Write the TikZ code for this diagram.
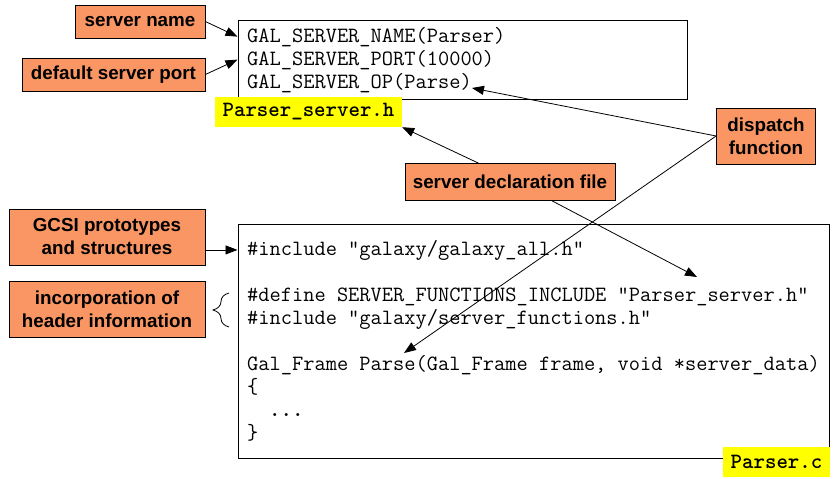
\documentclass[tikz,border=0pt]{standalone}
\usepackage{fontspec}
\usetikzlibrary{arrows.meta,calc,decorations.pathreplacing}
\newfontfamily\lblsans{Liberation Sans}
\definecolor{lblorange}{RGB}{250,150,100}
\definecolor{tagyellow}{RGB}{255,255,0}
\newcommand{\lblfont}{\lblsans\bfseries\fontsize{18.8}{23}\selectfont}
\newcommand{\codefont}{\ttfamily\fontsize{21.8}{23}\selectfont}
\newcommand{\tagfont}{\ttfamily\bfseries\fontsize{21.8}{23}\selectfont}
\begin{document}
\begin{tikzpicture}[x=1pt,y=-1pt,
  lbl/.style={rectangle,draw,line width=0.8pt,fill=lblorange,font=\lblfont,
              align=center,inner sep=0pt},
  tag/.style={rectangle,fill=tagyellow,font=\tagfont,inner sep=0pt},
  codebox/.style={rectangle,draw,line width=1pt,inner sep=0pt},
  code/.style={font=\codefont,anchor=base west,inner sep=0pt},
  ptr/.style={-{Triangle[length=12pt,width=9pt]},line width=0.8pt}]
\fill[white] (0,0) rectangle (839,479);
\useasboundingbox (0,0) rectangle (839,479);
\node[codebox,minimum width=449pt,minimum height=79pt] (hbox) at (462.5,60) {};
\node[codebox,minimum width=591pt,minimum height=234pt] (bbox) at (533.5,341) {};
\node[code] (nameln) at (247,42) {GAL\_SERVER\_NAME(Parser)};
\node[code] (portln) at (247,65) {GAL\_SERVER\_PORT(10000)};
\node[code] (opln) at (247,88) {GAL\_SERVER\_OP(Parse)};
\node[code] (incln) at (247,255) {\#include "galaxy/galaxy\_all.h"};
\node[code] (defln) at (247,301) {\#define SERVER\_FUNCTIONS\_INCLUDE "Parser\_server.h"};
\node[code] (srvln) at (247,324) {\#include "galaxy/server\_functions.h"};
\node[code] (parseln) at (247,370) {Gal\_Frame Parse(Gal\_Frame frame, void *server\_data)};
\node[code] (openln) at (247,393) {\{};
\node[code,font=\codefont\bfseries] (dotsln) at (269,416) {...};
\node[code] (closeln) at (247,439) {\}};
\node[lbl,minimum width=130pt,minimum height=33pt] (sname) at (140,21.5) {server name};
\node[lbl,minimum width=183pt,minimum height=33pt] (dport) at (113.5,74.5) {default server port};
\node[lbl,minimum width=196pt,minimum height=56pt] (gcsi) at (107,237) {GCSI prototypes\\and structures};
\node[lbl,minimum width=196pt,minimum height=56pt] (hdr) at (107,309) {incorporation of\\header information};
\node[lbl,minimum width=99pt,minimum height=56pt] (dispatch) at (766,136) {dispatch\\function};
\node[lbl,minimum width=210pt,minimum height=37pt] (decl) at (510,182) {server declaration file};
\node[tag,minimum width=187pt,minimum height=30pt] (psh) at (308.5,112) {Parser\_server.h};
\node[tag,minimum width=107pt,minimum height=30pt] (pc) at (776.5,462) {Parser.c};
\coordinate (parsept) at (404,353);
\coordinate (defpt) at (697,277);
\draw[ptr] (sname.east) -- (hbox.west |- nameln.west);
\draw[ptr] (dport.east) -- (hbox.west |- portln.west);
\draw[ptr] (gcsi.east |- incln.west) -- (bbox.west |- incln.west);
\draw[ptr] (dispatch.west) -- (opln.base east);
\draw[ptr] (dispatch.west) -- (parsept);
\draw[ptr] ($(decl.north west)!0.35!(decl.north east)$) -- (psh.south east);
\draw[ptr] ($(decl.south west)!0.7!(decl.south east)$) -- (defpt);
\draw[line width=0.8pt,decorate,decoration={brace,amplitude=16pt}] (229,327) -- (229,293);
\end{tikzpicture}
\end{document}
